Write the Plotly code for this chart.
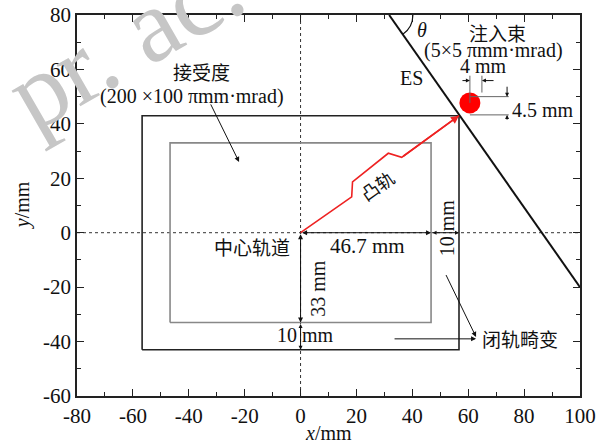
import plotly.graph_objects as go

# ---- data ----
x_ticks = [-80, -60, -40, -20, 0, 20, 40, 60, 80, 100]
y_ticks = [-60, -40, -20, 0, 20, 40, 60, 80]
x_ticktext = [str(v) for v in x_ticks]
y_ticktext = [str(v) for v in y_ticks]

outer_half = [56.7, 43.0]    # closed-orbit distortion box (half width, half height), mm
inner_half = [46.7, 33.0]    # acceptance box
es_x = [31.7, 100.0]          # electrostatic septum line
es_y = [80.0, -20.0]
bump_x = [0.0, 18.3, 18.6, 31.4, 36.2, 56.7]
bump_y = [0.0, 13.2, 18.7, 29.2, 27.7, 43.0]
beam_x = [60.6]
beam_y = [47.7]

FONT = "Liberation Serif, Times New Roman, Noto Sans CJK SC, serif"
CJK = "Noto Sans CJK SC, Liberation Serif, sans-serif"


def rect(h):
    return ([-h[0], h[0], h[0], -h[0], -h[0]], [-h[1], -h[1], h[1], h[1], -h[1]])


fig = go.Figure()

# dotted reference axes
fig.add_trace(go.Scatter(x=[0, 0], y=[y_ticks[0], y_ticks[-1]], mode="lines",
                         line=dict(color="#333333", width=1, dash="dot"), hoverinfo="skip"))
fig.add_trace(go.Scatter(x=[x_ticks[0], x_ticks[-1]], y=[0, 0], mode="lines",
                         line=dict(color="#333333", width=1, dash="dot"), hoverinfo="skip"))

ox, oy = rect(outer_half)
ix, iy = rect(inner_half)
fig.add_trace(go.Scatter(x=ox, y=oy, mode="lines", line=dict(color="#222222", width=1.6)))
fig.add_trace(go.Scatter(x=ix, y=iy, mode="lines", line=dict(color="#888888", width=1.6)))
fig.add_trace(go.Scatter(x=es_x, y=es_y, mode="lines", line=dict(color="#111111", width=2)))
fig.add_trace(go.Scatter(x=bump_x, y=bump_y, mode="lines", line=dict(color="#ee2222", width=1.6)))
fig.add_trace(go.Scatter(x=beam_x, y=beam_y, mode="markers",
                         marker=dict(color="#ff0000", size=21, line=dict(width=0))))

# beam dimension lines
dim_lines = [
    ([beam_x[0], beam_x[0]], [47.7, 57.7]),
    ([64.9, 64.9], [51.5, 57.7]),
    ([beam_x[0], 74.5], [50.0, 50.0]),
    ([beam_x[0], 74.5], [43.3, 43.3]),
]
for lx, ly in dim_lines:
    fig.add_trace(go.Scatter(x=lx, y=ly, mode="lines", line=dict(color="#666666", width=1)))

shapes = [
    dict(type="path", path="M 40.2,80 Q 40.2,75.5 36.6,72.9", xref="x", yref="y",
         line=dict(color="#111111", width=1.2)),
]

ann = []


def arrow(x, y, ax, ay, color="#111111", side="end", width=1.0, size=1.0, head=2):
    ann.append(dict(x=x, y=y, ax=ax, ay=ay, xref="x", yref="y", axref="x", ayref="y",
                    text="", showarrow=True, arrowhead=head, startarrowhead=head,
                    arrowsize=size, startarrowsize=size, arrowwidth=width,
                    arrowcolor=color, arrowside=side))


def label(x, y, text, size=20, angle=0, font=FONT, color="#111111", xanchor="center"):
    ann.append(dict(x=x, y=y, xref="x", yref="y", text=text, showarrow=False,
                    textangle=angle, xanchor=xanchor, yanchor="middle",
                    font=dict(family=font, size=size, color=color)))


# watermark (drawn first so it sits under other annotations)
ann.append(dict(x=0.095, y=0.935, xref="paper", yref="paper", text="pr. ac.", showarrow=False,
                xanchor="center", yanchor="middle",
                textangle=-30, font=dict(family=FONT, size=104, color="#c6c6c6")))

# red arrowhead at end of bump
arrow(bump_x[-1], bump_y[-1], bump_x[-2], bump_y[-2], color="#ee2222", width=1.6, size=1.0)
# dimension arrows
arrow(inner_half[0], 0, 0, 0, side="end+start")
arrow(outer_half[0], 0, inner_half[0], 0, side="end+start", size=0.8)
arrow(0, -inner_half[1], 0, 0, side="end+start")
arrow(0, -outer_half[1], 0, -inner_half[1], side="end+start", size=0.8)
arrow(beam_x[0], 55.9, 57.4, 55.9, size=0.8)
arrow(64.9, 55.9, 69.6, 55.9, size=0.8)
arrow(73.9, 50.0, 73.9, 54.2, size=0.8)
arrow(73.9, 43.3, 73.9, 41.0, size=0.8)
# pointer arrows
arrow(-22.0, 26.0, -32.4, 47.7)
arrow(62.8, -38.3, 51.8, -15.0)
arrow(62.8, -39.0, 33.1, -39.0)

# labels
label(-35.6, 59.1, "接受度", size=19, font=CJK)
label(-38.7, 50.2, "(200 ×100 πmm·mrad)", size=20)
label(-3.0, -5.0, "中心轨道", size=19, font=CJK, xanchor="right")
label(24.0, -5.0, "46.7 mm", size=21)
label(52.4, 2.0, "10 mm", size=20, angle=-90)
label(6.0, -20.5, "33 mm", size=20, angle=-90)
label(1.9, -37.5, "10 mm", size=20)
label(78.5, -39.0, "闭轨畸变", size=19, font=CJK)
label(27.5, 17.5, "凸轨", size=18, font=CJK, angle=-35)
label(39.8, 57.0, "ES", size=20)
label(43.4, 74.5, "<i>θ</i>", size=20)
label(70.3, 73.6, "注入束", size=19, font=CJK)
label(69.2, 67.1, "(5×5 πmm·mrad)", size=20)
label(65.5, 61.3, "4 mm", size=20)
label(86.8, 45.0, "4.5 mm", size=20)

# axis titles
ann.append(dict(x=0.5, y=-0.128, xref="paper", yref="paper", text="<i>x</i>/mm",
                showarrow=False, xanchor="center", yanchor="bottom", borderpad=0,
                font=dict(family=FONT, size=20, color="#111111")))
ann.append(dict(x=-0.108, y=0.5, xref="paper", yref="paper", text="<i>y</i>/mm",
                showarrow=False, xanchor="center", yanchor="middle", textangle=-90,
                font=dict(family=FONT, size=20, color="#111111")))

axis_common = dict(showline=True, linecolor="#222222", linewidth=1.6, mirror="ticks",
                   ticks="inside", ticklen=7, tickwidth=1.4, tickcolor="#222222",
                   showgrid=False, zeroline=False, automargin=False,
                   tickfont=dict(family=FONT, size=21, color="#111111"),
                   minor=dict(ticks="inside", ticklen=4, tickwidth=1.2, tickcolor="#222222"))

fig.update_layout(
    width=607, height=443,
    margin=dict(l=77, r=27, t=15, b=47),
    paper_bgcolor="white", plot_bgcolor="white",
    showlegend=False,
    shapes=shapes,
    annotations=ann,
    xaxis=dict(range=[x_ticks[0], x_ticks[-1]], tickvals=x_ticks, ticktext=x_ticktext,
               **axis_common),
    yaxis=dict(range=[y_ticks[0], y_ticks[-1]], tickvals=y_ticks, ticktext=y_ticktext,
               **axis_common),
)
fig.update_xaxes(minor_dtick=10)
fig.update_yaxes(minor_dtick=10)

fig.write_html("out.html", config={"displayModeBar": False},
               post_script="document.body.style.margin='0';document.body.style.overflow='hidden';")
